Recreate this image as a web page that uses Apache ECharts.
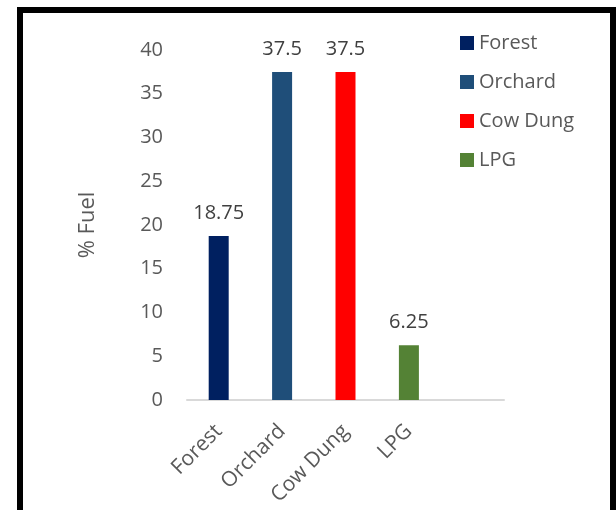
<!DOCTYPE html>
<html>
<head>
<meta charset="utf-8">
<script src="https://cdn.jsdelivr.net/npm/echarts@6/dist/echarts.min.js"></script>
<style>
  html, body { margin: 0; padding: 0; background: #fff; }
  #chart { width: 616px; height: 510px; }
</style>
</head>
<body>
<div id="chart"></div>
<script>
const categories = ['Forest', 'Orchard', 'Cow Dung', 'LPG', '']
const fuelNames = ['Forest', 'Orchard', 'Cow Dung', 'LPG']
const fuelValues = [18.75, 37.5, 37.5, 6.25]
const fuelColors = ['#002060', '#1F4E79', '#FF0000', '#548235']

const textColor = '#595959'
const font = 'Open Sans'

// one series per fuel so the legend gets an entry for each, stacked so they share the slot
const series = fuelNames.map((name, i) => {
  const data = categories.map((c, j) => (j === i ? fuelValues[i] : '-'))
  return {
    name: name,
    type: 'bar',
    stack: 'fuel',
    barWidth: 20,
    itemStyle: { color: fuelColors[i] },
    label: {
      show: true,
      position: 'top',
      distance: 13,
      color: '#404040',
      fontFamily: font,
      fontSize: 20
    },
    data: data
  }
})

const chart = echarts.init(document.getElementById('chart'))
chart.setOption({
  animation: false,
  graphic: [{
    type: 'rect',
    shape: { x: 20, y: 10, width: 593, height: 530 },
    style: { fill: 'none', stroke: '#000', lineWidth: 6 }
  }],
  legend: {
    orient: 'vertical',
    left: 455,
    top: 28,
    itemWidth: 14,
    itemHeight: 14,
    itemGap: 19,
    icon: 'rect',
    textStyle: { color: textColor, fontFamily: font, fontSize: 20 },
    data: fuelNames
  },
  grid: {
    left: 187,
    right: 112,
    top: 50,
    bottom: 110
  },
  xAxis: {
    type: 'category',
    data: categories,
    axisLine: { lineStyle: { color: '#D9D9D9', width: 2 } },
    axisTick: { show: false },
    axisLabel: {
      rotate: 45,
      margin: 28,
      interval: 0,
      color: textColor,
      fontFamily: font,
      fontSize: 21
    }
  },
  yAxis: {
    type: 'value',
    min: 0,
    max: 40,
    interval: 5,
    name: '% Fuel',
    nameLocation: 'middle',
    nameRotate: 90,
    nameGap: 88,
    nameTextStyle: { color: textColor, fontFamily: font, fontSize: 22 },
    axisLine: { show: false },
    axisTick: { show: false },
    splitLine: { show: false },
    axisLabel: {
      margin: 24,
      color: textColor,
      fontFamily: font,
      fontSize: 20
    }
  },
  series: series
})
</script>
</body>
</html>
